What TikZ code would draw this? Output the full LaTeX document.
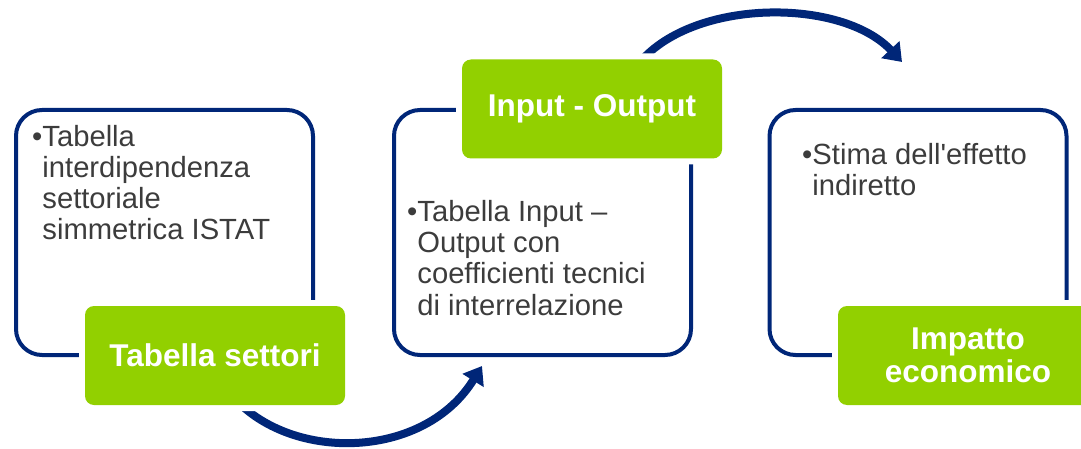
\documentclass[tikz,border=0pt]{standalone}
\usepackage{fontspec}
\setmainfont{Liberation Sans}[Ligatures=TeXOff]
\usetikzlibrary{arrows.meta}
\definecolor{navy}{RGB}{0,38,120}
\definecolor{lgreen}{RGB}{146,208,0}
\definecolor{txt}{RGB}{60,60,60}
\begin{document}
\begin{tikzpicture}[x=1pt,y=-1pt,
  outline/.style={draw=navy, line width=4pt, rounded corners=26pt,
    minimum width=297pt, minimum height=245pt, inner sep=0pt},
  gbox/.style={fill=lgreen, rounded corners=9pt, minimum width=260pt,
    minimum height=99pt, text=white, inner sep=0pt,
    font=\fontsize{31.5}{33}\selectfont\bfseries, align=center,
    preaction={draw=white, line width=12pt}},
  bul/.style={anchor=base west, inner sep=0pt, text=txt,
    font=\fontsize{29.2}{31}\selectfont},
  flow/.style={draw=navy, line width=8pt,
    -{Triangle[length=17pt,width=24pt]}}]
\useasboundingbox (0,0) rectangle (1081,449);
\clip (0,0) rectangle (1081,449);

% outlined boxes
\node[outline] (b1) at (164.5,232.5) {};
\node[outline] (b2) at (542.5,232.5) {};
\node[outline] (b3) at (918,232.5) {};

% connector end points
\coordinate (a1s) at (238,402);
\coordinate (a1e) at (482,366);
\coordinate (a2s) at (640,62);
\coordinate (a2e) at (902,62);

% curved arrows
\draw[flow] (a1s) .. controls (298,462) and (425,458) .. (a1e);
\draw[flow] (a2s) .. controls (695,-2) and (842,-2) .. (a2e);

% green title boxes
\node[gbox] (g1) at (215,355.5) {Tabella settori};
\node[gbox] (g2) at (592,109) {Input - Output};
\node[gbox] (g3) at (968,355.5) {Impatto\\economico};

% bullet texts
\node[bul] (t1) at (32,147) {\begin{tabular}[t]{@{}l@{}l@{}}•&Tabella\\&interdipendenza\\&settoriale\\&simmetrica ISTAT\end{tabular}};
\node[bul] (t2) at (407,222) {\begin{tabular}[t]{@{}l@{}l@{}}•&Tabella Input –\\&Output con\\&coefficienti tecnici\\&di interrelazione\end{tabular}};
\node[bul, font=\fontsize{29.2}{30}\selectfont] (t3) at (802,165) {\begin{tabular}[t]{@{}l@{}l@{}}•&Stima dell'effetto\\&indiretto\end{tabular}};
\end{tikzpicture}
\end{document}
